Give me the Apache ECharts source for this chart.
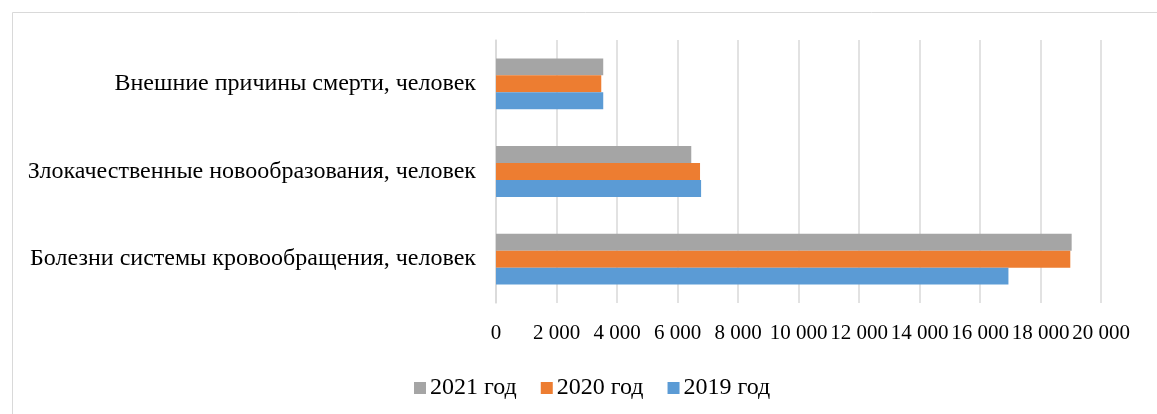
<!DOCTYPE html>
<html>
<head>
<meta charset="utf-8">
<script src="https://cdn.jsdelivr.net/npm/echarts@6/dist/echarts.min.js"></script>
<style>
html,body{margin:0;padding:0;background:#fff;}
#c{width:1157px;height:414px;}
</style>
</head>
<body>
<div id="c"></div>
<script>
const categories = ['Болезни системы кровообращения, человек', 'Злокачественные новообразования, человек', 'Внешние причины смерти, человек'];
const seriesNames = ['2021 год', '2020 год', '2019 год'];
const values2019 = [16940, 6780, 3545];
const values2020 = [18985, 6745, 3480];
const values2021 = [19030, 6455, 3545];
const legendOrder = ['2021 год', '2020 год', '2019 год'];
const colors = { '2019 год': '#5b9bd5', '2020 год': '#ed7d31', '2021 год': '#a5a5a5' };

const font = 'Liberation Serif, Times New Roman, serif';
const chart = echarts.init(document.getElementById('c'));
const dataBySeries = { '2019 год': values2019, '2020 год': values2020, '2021 год': values2021 };
chart.setOption({
  backgroundColor: '#fff',
  animation: false,
  graphic: [{
    type: 'rect', left: 10, top: 10,
    shape: { width: 1160, height: 420 },
    style: { fill: 'none', stroke: '#d9d9d9', lineWidth: 1 }
  }],
  legend: {
    data: legendOrder,
    top: 371,
    left: 409,
    itemWidth: 12, itemHeight: 12, itemGap: 24,
    icon: 'rect',
    textStyle: { fontFamily: font, fontSize: 24, color: '#000', padding: [0, 0, 0, -1] }
  },
  grid: { left: 496, right: 56, top: 40, bottom: 111, containLabel: false },
  xAxis: {
    type: 'value', min: 0, max: 20000, interval: 2000,
    axisLine: { show: false }, axisTick: { show: false },
    splitLine: { lineStyle: { color: '#d9d9d9', width: 1.5 } },
    axisLabel: {
      fontFamily: font, fontSize: 21, color: '#000', margin: 20,
      formatter: v => v === 0 ? '0' : String(v).replace(/\B(?=(\d{3})+(?!\d))/g, ' ')
    }
  },
  yAxis: {
    type: 'category', data: categories,
    axisLine: { show: true, lineStyle: { color: '#d9d9d9', width: 1.5 } },
    axisTick: { show: false },
    axisLabel: { fontFamily: font, fontSize: 24, color: '#000', margin: 20 }
  },
  series: seriesNames.map(n => ({
    name: n, type: 'bar', data: dataBySeries[n],
    itemStyle: { color: colors[n] },
    barGap: '0%', barCategoryGap: '42%'
  }))
});
</script>
</body>
</html>
